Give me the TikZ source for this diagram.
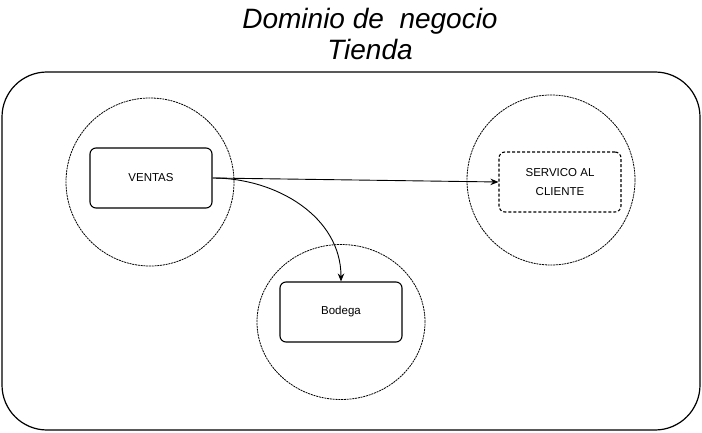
\documentclass[tikz,border=0pt]{standalone}
\usepackage{fontspec}
\setmainfont{Liberation Sans}
\usetikzlibrary{arrows.meta,positioning,shapes.geometric}

\begin{document}
\begin{tikzpicture}[
  x=1pt, y=-1pt,
  every node/.style={font=\fontsize{11.5}{19}\selectfont, align=center, inner sep=0pt},
  dominio/.style={draw, line width=0.8pt, dash pattern=on 2pt off 0.8pt, ellipse, minimum width=168pt, minimum height=168pt},
  box/.style={draw, line width=1.1pt, rounded corners=6pt, minimum width=122pt, minimum height=60pt},
  arrow/.style={-{Stealth[length=8pt,width=6.5pt]}, line width=0.9pt}
]
  \useasboundingbox (0,0) rectangle (702,433);

  % Nodes
  \node (title) [font=\itshape\fontsize{28}{32}\selectfont] at (370,34) {Dominio de\ \ negocio\\Tienda};
  \node (tienda) [draw, line width=1.2pt, rounded corners=45pt, minimum width=698pt, minimum height=358pt] at (351,251) {};

  \node (dventas) [dominio] at (150,182) {};
  \node (dservicio) [dominio, minimum height=170pt] at (551,180) {};
  \node (dbodega) [dominio, minimum height=155pt] at (341,322) {};

  \node (ventas) [box] at (151,178) {VENTAS};
  \node (servicio) [box, dash pattern=on 3pt off 2pt] at (560,182) {SERVICO AL\\CLIENTE};
  \node (bodega) [box] at (341,312) {Bodega};

  % Paths
  \draw [arrow] (ventas.east) -- (servicio.west);
  \draw [arrow] (ventas.east) to[out=0, in=90] (bodega.north);
\end{tikzpicture}
\end{document}
